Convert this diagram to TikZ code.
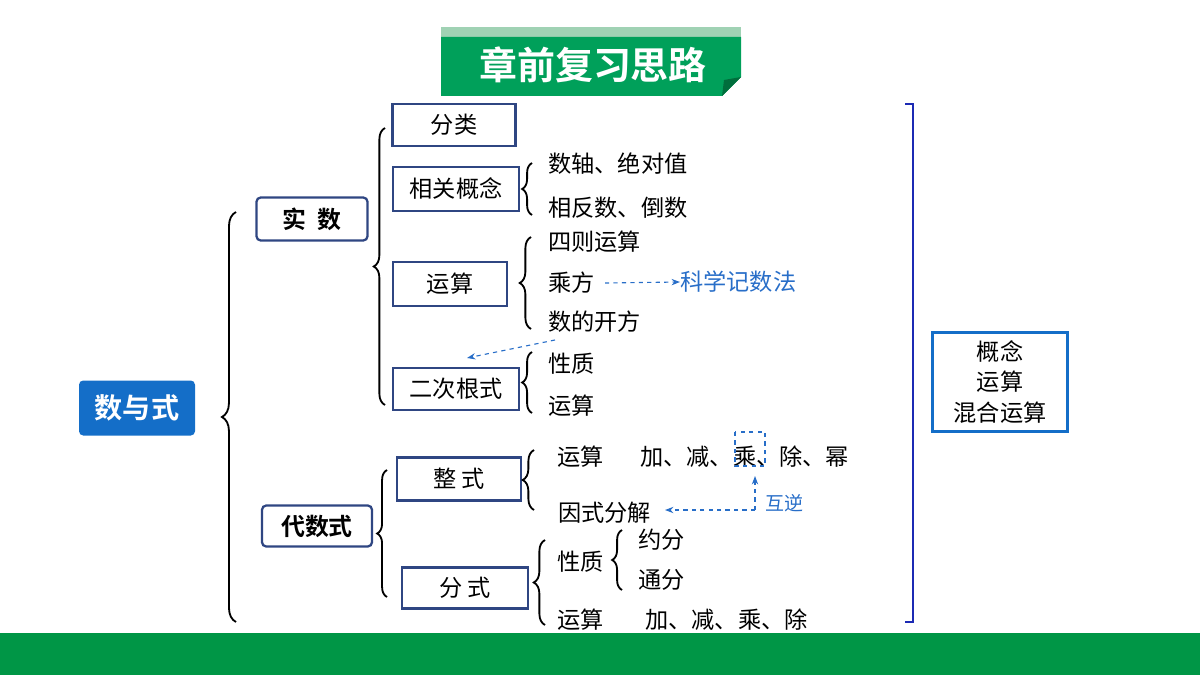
\documentclass[tikz,border=0pt]{standalone}
\usepackage{fontspec}
\setmainfont{Noto Sans CJK SC}
\newfontfamily\cjkb{Noto Sans CJK SC}[BoldFont={* Bold}]
\usetikzlibrary{decorations.pathreplacing,arrows.meta}
\definecolor{gbar}{RGB}{0,150,70}
\definecolor{gtitle}{RGB}{0,160,90}
\definecolor{glight}{RGB}{160,210,180}
\definecolor{gdark}{RGB}{0,110,60}
\definecolor{bfill}{RGB}{20,110,200}
\definecolor{bline}{RGB}{47,70,130}
\definecolor{btext}{RGB}{40,110,200}
\tikzset{
 brc/.style={decorate,decoration={brace,amplitude=#1},line width=1.3pt},
 brc/.default=8pt,
 sqbox/.style={draw=bline,line width=1.6pt,fill=white},
 rbox/.style={draw=bline,line width=1.6pt,rounded corners=3pt,fill=white},
 txt/.style={font=\fontsize{16.5}{18}\selectfont,anchor=west,inner sep=0pt},
 ctxt/.style={font=\fontsize{16.5}{18}\selectfont,inner sep=0pt},
 darr/.style={draw=btext,dashed,line width=0.8pt,-{Stealth[length=6pt]}},
}
\begin{document}
\begin{tikzpicture}[x=0.025cm,y=-0.025cm]
\useasboundingbox (0,0) rectangle (1200,675);
\fill[gbar] (0,633) rectangle (1200,675);
% title
\fill[glight] (441,27) rectangle (741,37);
\fill[gtitle] (441,37) -- (741,37) -- (741,77) -- (722,96) -- (441,96) -- cycle;
\fill[gdark] (741,77) -- (722,96) -- (724,80) -- cycle;
\node[font=\fontsize{27}{30}\selectfont\cjkb\bfseries,text=white] (title) at (593,65) {章前复习思路};
% root
\node[fill=bfill,rounded corners=3pt,minimum width=116*0.025cm,minimum height=55*0.025cm,text=white,font=\fontsize{20}{22}\selectfont\cjkb\bfseries] (root) at (137,408) {数与式};
\draw[brc=10pt] (236,622) -- (236,212);
% shishu
\node[rbox,minimum width=111*0.025cm,minimum height=43*0.025cm,font=\fontsize{17}{19}\selectfont\cjkb\bfseries] (ss) at (312,219) {实\ \ 数};
\node[rbox,minimum width=110*0.025cm,minimum height=41*0.025cm,font=\fontsize{17}{19}\selectfont\cjkb\bfseries] (dss) at (317,526) {代数式};
\draw[brc=8pt] (385,405) -- (385,128);
\node[sqbox,minimum width=123*0.025cm,minimum height=42*0.025cm,ctxt] (fl) at (454,125) {分类};
\node[sqbox,minimum width=126*0.025cm,minimum height=44*0.025cm,ctxt] (xg) at (456,189) {相关概念};
\node[sqbox,minimum width=114*0.025cm,minimum height=44*0.025cm,ctxt] (ys) at (450,284) {运算};
\node[sqbox,minimum width=126*0.025cm,minimum height=42*0.025cm,ctxt] (ec) at (456,389) {二次根式};
\draw[brc=7pt] (532,215) -- (532,163);
\node[txt] (t1) at (548,164) {数轴、绝对值};
\node[txt] (t2) at (548,208) {相反数、倒数};
\draw[brc=8pt] (531,329) -- (531,237);
\node[txt] (t3) at (548,242) {四则运算};
\node[txt] (cf) at (548,283) {乘方};
\node[txt] (t5) at (548,322) {数的开方};
\node[txt,text=btext] (kx) at (680,282) {科学记数法};
\coordinate (cfe) at (605,283);
\draw[darr] (cfe) -- (kx.west);
\draw[brc=7pt] (532,413) -- (532,352);
\node[txt] (t6) at (548,364) {性质};
\node[txt] (t7) at (548,406) {运算};
\coordinate (a1) at (555,340);
\coordinate (a2) at (467,358);
\draw[darr] (a1) -- (a2);
% dai shu shi
\draw[brc=7pt] (387,597) -- (387,470);
\node[sqbox,minimum width=124*0.025cm,minimum height=43*0.025cm,ctxt] (zs) at (459,479) {整\ 式};
\node[sqbox,minimum width=126*0.025cm,minimum height=41*0.025cm,ctxt] (fs) at (465,588) {分\ 式};
\draw[brc=8pt] (534,510) -- (534,450);
\node[txt] (z1) at (557,457) {运算};
\node[txt] (z2) at (640,457) {加、减、乘、除、幂};
\draw[btext,dashed,line width=0.9pt] (735,432) rectangle (765,466);
\coordinate (hb) at (755,476);
\node[txt] (yf) at (558,513) {因式分解};
\coordinate (corner) at (755,510);
\draw[darr] (corner) -- (hb);
\draw[darr] (corner) -- (665,510);
\node[txt,text=btext,font=\fontsize{13.5}{15}\selectfont] (hn) at (765,503) {互逆};
\draw[brc=8pt] (545,625) -- (545,540);
\node[txt] (f1) at (557,562) {性质};
\draw[brc=7pt] (622,590) -- (622,530);
\node[txt] (f2) at (638,540) {约分};
\node[txt] (f3) at (638,580) {通分};
\node[txt] (f4) at (557,620) {运算};
\node[txt] (f5) at (645,620) {加、减、乘、除};
% right bracket
\draw[bline!60!blue,line width=1.5pt] (905,104) -- (913,104) -- (913,622) -- (905,622);
\node[draw=bfill,line width=1.6pt,minimum width=135*0.025cm,minimum height=99*0.025cm,align=center,font=\fontsize{16.5}{22}\selectfont] (rb) at (1000,382) {概念\\运算\\混合运算};
\end{tikzpicture}
\end{document}
